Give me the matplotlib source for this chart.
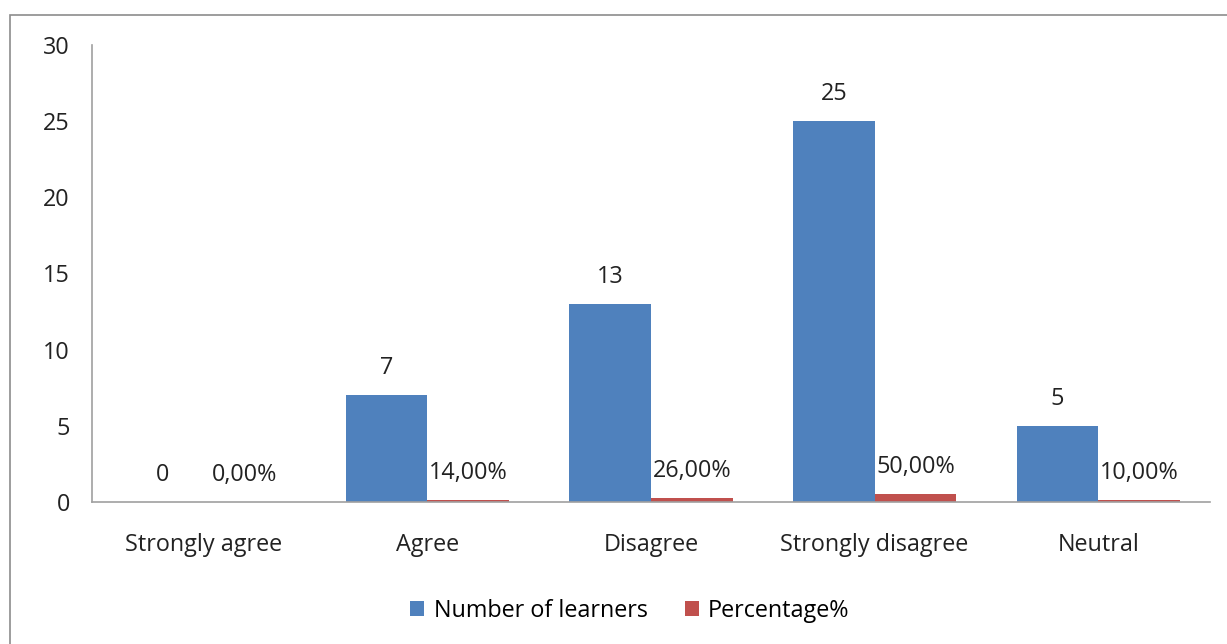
import matplotlib.pyplot as plt
import numpy as np
from matplotlib.patches import Rectangle

categories = ['Strongly agree', 'Agree', 'Disagree', 'Strongly disagree', 'Neutral']
learners = [0, 7, 13, 25, 5]
percentage = [0.00, 0.14, 0.26, 0.50, 0.10]

plt.rcParams['font.family'] = ['Open Sans', 'DejaVu Sans']
fs = 16.8

fig = plt.figure(figsize=(12.27, 6.44), dpi=100)
ax = fig.add_axes([92 / 1227, 1 - 502 / 644, 1118 / 1227, 457 / 644])

# frame around chart area
fig.patches.append(Rectangle((10 / 1227, -0.1), 1.2, 1 - 15 / 644 + 0.1,
                             transform=fig.transFigure, fill=False,
                             edgecolor='#8c8c8c', linewidth=1.2))

x = np.arange(len(categories))
w = 0.365
b1 = ax.bar(x - w / 2, learners, w, color='#4f81bd', label='Number of learners')
b2 = ax.bar(x + w / 2, percentage, w, color='#c0504d', label='Percentage%')

for xi, v in zip(x, learners):
    ax.annotate(str(v), (xi - w / 2, v), xytext=(0, 11), textcoords='offset points',
                ha='center', va='bottom', fontsize=fs, color='#222222')
for xi, v in zip(x, percentage):
    ax.annotate(f'{v * 100:.2f}%'.replace('.', ','), (xi + w / 2, v), xytext=(0, 11),
                textcoords='offset points', ha='center', va='bottom', fontsize=fs,
                color='#222222')

ax.set_xlim(-0.5, len(categories) - 0.5)
ax.set_ylim(0, 30)
ax.set_yticks([0, 5, 10, 15, 20, 25, 30])
ax.set_xticks(x)
ax.set_xticklabels(categories)
ax.tick_params(axis='x', length=0, pad=22, labelsize=fs, colors='#222222')
ax.tick_params(axis='y', length=0, pad=16, labelsize=fs, colors='#222222')
for s in ['top', 'right']:
    ax.spines[s].set_visible(False)
ax.spines['left'].set_color('#a0a0a0')
ax.spines['bottom'].set_color('#a0a0a0')
ax.spines['left'].set_linewidth(1.2)
ax.spines['bottom'].set_linewidth(1.2)

fig.legend(handles=[b1, b2], loc='center', bbox_to_anchor=(630 / 1227, 1 - 611 / 644),
           ncol=2, frameon=False, fontsize=fs, handlelength=0.6, handleheight=0.6,
           columnspacing=1.6, handletextpad=0.4)

fig.savefig('out.png', dpi=100)
